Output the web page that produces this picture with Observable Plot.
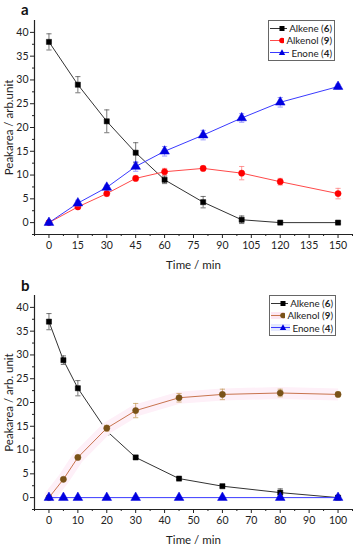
<!DOCTYPE html>
<html><head><meta charset="utf-8">
<script src="https://cdn.jsdelivr.net/npm/d3@7"></script>
<script src="https://cdn.jsdelivr.net/npm/@observablehq/plot@0.6"></script>
<style>
body{margin:0;background:#fff;font-family:Lato,"Open Sans",sans-serif;}
.panel{position:relative;width:357px;height:275px;overflow:hidden;}
.letter{position:absolute;font-weight:bold;font-size:15px;line-height:14px;color:#111;}
.legend{position:absolute;border:1px solid #666;background:#fff;font-size:9.8px;color:#222;padding:1px 2px 1px 1px;box-sizing:border-box;}
.legend .row{display:flex;align-items:center;height:12.3px;white-space:nowrap;}
.legend svg{margin-right:2px;}
</style></head><body>
<div id="a" class="panel"></div><div id="b" class="panel"></div>
<script>
// ---- Panel a data ----
const timesA = [0, 15, 30, 45, 60, 80, 100, 120, 150];
const alkeneA = [38.0, 29.0, 21.3, 14.7, 9.0, 4.3, 0.6, 0.0, 0.0];
const alkeneAErr = [1.7, 1.7, 2.4, 2.1, 0.8, 1.2, 0.8, 0.2, 0.2];
const alkenolA = [0.0, 3.3, 6.1, 9.3, 10.7, 11.4, 10.4, 8.6, 6.1];
const alkenolAErr = [0.2, 0.3, 0.5, 0.5, 0.7, 0.5, 1.4, 0.7, 1.1];
const enoneA = [0.0, 4.1, 7.4, 11.8, 15.0, 18.4, 22.0, 25.3, 28.6];
const enoneAErr = [0.2, 0.6, 0.5, 1.0, 1.0, 1.0, 0.9, 1.0, 0.5];
const xTicksA = [0, 15, 30, 45, 60, 75, 90, 105, 120, 135, 150];

// ---- Panel b data ----
const timesB = [0, 5, 10, 20, 30, 45, 60, 80, 100];
const alkeneB = [37.0, 28.9, 23.0, 14.0, 8.45, 4.0, 2.4, 1.05, 0.0];
const alkeneBErr = [1.7, 0.9, 1.6, 0.8, 0.3, 0.2, 0.3, 0.8, 0.2];
const alkenolB = [0.0, 3.85, 8.45, 14.6, 18.3, 21.0, 21.7, 22.0, 21.7];
const alkenolBErr = [0.2, 0.3, 0.3, 0.6, 1.5, 0.9, 1.1, 0.8, 0.5];
const enoneB = [0, 0, 0, 0, 0, 0, 0, 0, 0];
const enoneBErr = [0.1, 0.1, 0.1, 0.1, 0.1, 0.1, 0.1, 0.1, 0.1];
const xTicksB = [0, 10, 20, 30, 40, 50, 60, 70, 80, 90, 100];

const yTicks = [0, 5, 10, 15, 20, 25, 30, 35, 40];
const seriesNames = ["Alkene", "Alkenol", "Enone"];
const seriesNums = ["6", "9", "4"];

const capSymbol = {draw(ctx, size) { const r = Math.sqrt(size / Math.PI); ctx.moveTo(-r, 0); ctx.lineTo(r, 0); }};

function rows(times, vals, errs) {
  return times.map((t, i) => ({t, v: vals[i], lo: vals[i] - errs[i], hi: vals[i] + errs[i]}));
}

function seriesMarks(data, st) {
  const m = [];
  if (st.band) m.push(Plot.line(data, {x: "t", y: "v", stroke: st.band, strokeWidth: 12, strokeLinecap: "butt", curve: "linear"}));
  m.push(Plot.line(data, {x: "t", y: "v", stroke: st.line, strokeWidth: 1, curve: "linear"}));
  m.push(Plot.ruleX(data, {x: "t", y1: "lo", y2: "hi", stroke: st.err, strokeWidth: 0.8}));
  m.push(Plot.dot(data, {x: "t", y: "lo", symbol: capSymbol, r: 2.6, stroke: st.err, strokeWidth: 0.8}));
  m.push(Plot.dot(data, {x: "t", y: "hi", symbol: capSymbol, r: 2.6, stroke: st.err, strokeWidth: 0.8}));
  m.push(Plot.dot(data, {x: "t", y: "v", symbol: st.symbol, r: st.r, fill: st.marker, stroke: st.marker, strokeWidth: 0.5}));
  return m;
}

function makePanel(el, opt) {
  const xMinor = opt.xTicks.slice(0, -1).map((t, i) => (t + opt.xTicks[i + 1]) / 2);
  xMinor.unshift(opt.xTicks[0] - (opt.xTicks[1] - opt.xTicks[0]) / 2);
  xMinor.push(opt.xTicks[opt.xTicks.length - 1] + (opt.xTicks[1] - opt.xTicks[0]) / 2);
  const yMinor = yTicks.slice(0, -1).map((t, i) => t + 2.5);
  yMinor.unshift(-2.5);
  const plot = Plot.plot({
    width: 357, height: 275,
    marginTop: 20, marginBottom: 41, marginLeft: 34, marginRight: 5,
    style: {fontFamily: "Lato, 'Open Sans', sans-serif", fontSize: "10.5px", color: "#222", background: "white"},
    x: {domain: opt.xDomain},
    y: {domain: [-2.5, 42.5]},
    marks: [
      Plot.ruleY([-2.5], {stroke: "#222", strokeWidth: 1.2}),
      Plot.ruleX([opt.xDomain[0]], {stroke: "#222", strokeWidth: 1.2}),
      Plot.axisX(opt.xTicks, {tickSize: 4, tickPadding: 3, fontSize: 10.5, label: null}),
      Plot.axisX([], {fontSize: 11.5, label: "Time / min", labelAnchor: "center", labelOffset: 34, labelArrow: "none"}),
      Plot.axisX(xMinor, {tickSize: 2, tickFormat: () => "", label: null}),
      Plot.axisY(yTicks, {tickSize: 4, tickPadding: 2, fontSize: 10.5, label: null}),
      Plot.axisY([], {fontSize: 11.5, label: opt.yLabel, labelAnchor: "center", labelOffset: 30, labelArrow: "none"}),
      Plot.axisY(yMinor, {tickSize: 2, tickFormat: () => "", label: null}),
      ...opt.series.flatMap(s => seriesMarks(s.data, s.style))
    ]
  });
  el.appendChild(plot);
  const letter = document.createElement("div");
  letter.className = "letter";
  letter.textContent = opt.letter;
  letter.style.left = "21px"; letter.style.top = opt.letterTop + "px";
  el.appendChild(letter);
  // legend
  const lg = document.createElement("div");
  lg.className = "legend";
  lg.style.left = opt.legend.left + "px"; lg.style.top = opt.legend.top + "px";
  lg.style.width = opt.legend.width + "px";
  opt.series.forEach((s, i) => {
    const row = document.createElement("div");
    row.className = "row";
    const st = s.style;
    const sym = st.symbol === "square" ? `<rect x="9.5" y="3" width="5" height="5" fill="${st.marker}"/>`
      : st.symbol === "circle" ? `<circle cx="12" cy="5.5" r="2.8" fill="${st.marker}"/>`
      : `<path d="M12,2.3 L15.2,8 L8.8,8 Z" fill="${st.marker}"/>`;
    const band = st.legendBand ? `<rect x="0" y="2" width="24" height="7" fill="${st.legendBand}"/>` : "";
    row.innerHTML = `<svg width="24" height="11">${band}<line x1="0" x2="24" y1="5.5" y2="5.5" stroke="${st.line}" stroke-width="1"/>${sym}</svg><span>${seriesNames[i]} (<b>${seriesNums[i]}</b>)</span>`;
    lg.appendChild(row);
  });
  el.appendChild(lg);
}

makePanel(document.getElementById("a"), {
  letter: "a", letterTop: 2,
  xDomain: [-7.5, 157.5], xTicks: xTicksA, yLabel: "Peakarea / arb.unit",
  legend: {left: 268, top: 20, width: 67},
  series: [
    {data: rows(timesA, alkeneA, alkeneAErr), style: {line: "#333", err: "#555", marker: "#000", symbol: "square", r: 2.9}},
    {data: rows(timesA, alkenolA, alkenolAErr), style: {line: "#ff4a4a", err: "#ff8080", marker: "#f00", symbol: "circle", r: 3.1}},
    {data: rows(timesA, enoneA, enoneAErr), style: {line: "#3a3aff", err: "#8080ff", marker: "#0000e0", symbol: "triangle", r: 3.6}}
  ]
});

makePanel(document.getElementById("b"), {
  letter: "b", letterTop: 3,
  xDomain: [-5, 105], xTicks: xTicksB, yLabel: "Peakarea / arb. unit",
  legend: {left: 269, top: 20, width: 67},
  series: [
    {data: rows(timesB, alkeneB, alkeneBErr), style: {line: "#333", err: "#555", marker: "#000", symbol: "square", r: 2.9}},
    {data: rows(timesB, alkenolB, alkenolBErr), style: {line: "#c8744e", err: "#c8a060", marker: "#7a5218", symbol: "circle", r: 3.1, band: "#fef0f8", legendBand: "#fde6f2"}},
    {data: rows(timesB, enoneB, enoneBErr), style: {line: "#3a3aff", err: "#8080ff", marker: "#0000e0", symbol: "triangle", r: 3.6, legendBand: "#e4e8ff"}}
  ]
});
</script>
</body></html>
